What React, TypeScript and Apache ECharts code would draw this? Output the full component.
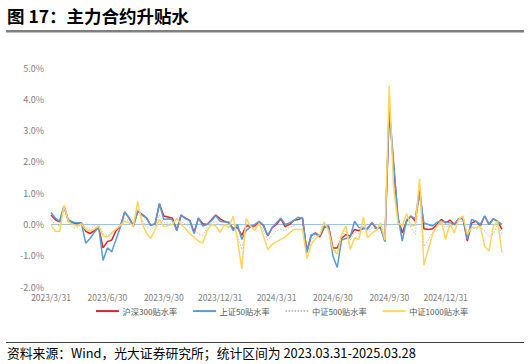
import React, { useEffect, useRef } from "react";
import * as echarts from "echarts";

const startDate = "2023-03-31";
const tickLabels = ["2023/3/31", "2023/6/30", "2023/9/30", "2023/12/31", "2024/3/31", "2024/6/30", "2024/9/30", "2024/12/31"];
const seriesNames = ["沪深300贴水率", "上证50贴水率", "中证500贴水率", "中证1000贴水率"];

const hs300 = [
  0.30, 0.15, 0.08, 0.58, 0.12, 0.05, 0.03, 0.05, -0.22, -0.29,
  -0.20, -0.10, -0.75, -0.55, -0.50, -0.20, -0.05, 0.40, 0.20, -0.05,
  0.42, 0.32, 0.21, -0.03, 0.02, 0.66, 0.27, 0.24, 0.20, -0.18,
  0.30, 0.20, 0.13, -0.25, 0.20, 0.02, 0.00, 0.15, 0.30, 0.18,
  0.10, 0.05, -0.13, -0.10, -0.35, -0.05, -0.05, -0.05, 0.08, -0.03,
  -0.37, -0.10, 0.00, 0.18, -0.07, 0.00, 0.13, 0.16, 0.21, -0.85,
  -0.37, -0.27, -0.40, -0.10, -0.05, -0.75, -0.75, -0.45, -0.32, -0.37,
  -0.16, -0.20, -0.13, -0.13, 0.05, -0.13, -0.09, -0.53, 3.60, 1.90,
  0.20, -0.27, 0.10, 0.27, 0.10, 1.15, -0.14, -0.16, -0.14, 0.00,
  0.16, 0.05, 0.14, 0.00, 0.18, 0.20, -0.53, 0.05, 0.10, -0.05,
  0.27, 0.00, 0.18, 0.10, -0.16,
];

const sz50 = [
  0.38, 0.20, 0.10, 0.60, 0.15, 0.08, 0.05, 0.05, -0.60, -0.45,
  -0.25, -0.08, -1.15, -0.75, -0.87, -0.48, -0.08, 0.40, 0.22, -0.05,
  0.42, 0.30, 0.21, -0.03, 0.02, 0.66, 0.16, 0.18, 0.15, -0.20,
  0.30, 0.18, 0.12, -0.30, 0.21, -0.05, 0.00, 0.12, 0.28, 0.10,
  0.08, 0.08, -0.20, 0.00, -0.48, -0.20, -0.08, 0.00, 0.10, -0.05,
  -0.35, -0.10, 0.05, 0.20, 0.00, 0.05, 0.13, 0.23, 0.18, -0.90,
  -0.33, -0.30, -0.35, -0.05, -0.08, -1.00, -1.38, -0.50, -0.45, -0.40,
  0.10, -0.10, -0.12, -0.15, 0.05, -0.10, -0.12, -0.55, 3.75, 2.00,
  0.27, -0.53, 0.15, 0.25, 0.20, 0.96, 0.05, 0.00, -0.05, 0.07,
  0.10, 0.08, 0.05, 0.00, 0.18, 0.20, -0.48, 0.16, 0.10, 0.00,
  0.27, 0.00, 0.18, 0.10, 0.00,
];

const zz500 = [
  0.15, 0.00, -0.05, 0.55, 0.05, -0.10, -0.12, 0.00, -0.10, -0.15,
  -0.05, 0.00, -0.30, -0.35, -0.30, -0.15, -0.05, 0.20, 0.10, -0.05,
  0.50, 0.15, -0.10, -0.15, -0.05, 0.30, 0.05, 0.05, 0.00, -0.05,
  0.10, 0.00, -0.10, -0.20, -0.30, -0.35, -0.10, 0.05, 0.10, -0.05,
  0.00, 0.00, -0.10, -0.35, -0.80, -0.05, -0.10, -0.10, 0.00, -0.20,
  -0.50, -0.35, -0.20, -0.15, -0.20, -0.10, -0.05, 0.00, -0.03, -0.90,
  -0.50, -0.35, -0.35, -0.05, -0.15, -0.80, -0.85, -0.40, -0.20, -0.50,
  -0.25, -0.30, -0.05, -0.20, -0.10, -0.15, -0.10, -0.50, 4.10, 1.60,
  0.10, -0.20, 0.00, -0.10, -0.32, 1.00, -0.70, -0.50, -0.25, -0.05,
  0.05, -0.10, 0.00, -0.05, 0.10, 0.10, -0.40, -0.10, -0.15, -0.10,
  -0.20, -0.40, -0.30, 0.00, -0.30,
];

const zz1000 = [
  -0.03, -0.22, -0.22, 0.62, 0.10, 0.00, -0.05, 0.02, -0.16, -0.20,
  -0.15, -0.05, -0.37, -0.40, -0.27, -0.15, -0.03, 0.10, 0.05, -0.05,
  0.74, 0.02, -0.27, -0.45, -0.16, 0.16, -0.08, -0.03, 0.00, 0.19,
  0.00, -0.13, -0.30, -0.40, -0.53, -0.60, -0.20, 0.00, -0.05, -0.25,
  0.00, -0.10, 0.27, -0.50, -1.42, 0.19, -0.05, -0.20, 0.05, -0.37,
  -0.80, -0.64, -0.55, -0.48, -0.40, -0.27, -0.16, -0.16, -0.16, -1.10,
  -0.64, -0.45, -0.32, 0.08, -0.20, -0.80, -0.95, -0.32, -0.05, -0.80,
  -0.43, -0.48, 0.23, -0.43, -0.27, -0.20, 0.05, -0.50, 4.42, 1.20,
  0.05, -0.05, 0.35, -0.05, -0.03, 1.46, -1.30, -0.80, -0.32, -0.05,
  0.10, -0.48, 0.03, -0.27, 0.16, 0.27, -0.32, -0.10, -0.10, -0.05,
  -0.70, -0.85, -0.05, 0.10, -0.90,
];

const categories: string[] = (() => {
  const out: string[] = [];
  const d0 = new Date(startDate + "T00:00:00Z");
  for (let i = 0; i < hs300.length; i++) {
    const d = new Date(d0.getTime() + i * 7 * 86400000);
    out.push(`${d.getUTCFullYear()}/${d.getUTCMonth() + 1}/${d.getUTCDate()}`);
  }
  return out;
})();

const FONT = '"Noto Sans CJK SC", "Noto Sans", sans-serif';

export default function App() {
  const ref = useRef<HTMLDivElement>(null);
  useEffect(() => {
    if (!ref.current) return;
    const chart = echarts.init(ref.current, null, { renderer: "svg" });
    const colors = ["#D42A2A", "#5B9BD5", "#BFBFBF", "#FFD560"];
    const datasets = [hs300, sz50, zz500, zz1000];
    chart.setOption({
      animation: false,
      backgroundColor: "#ffffff",
      textStyle: { fontFamily: FONT },
      grid: { left: 51, right: 28, top: 68, bottom: 77, containLabel: false },
      legend: {
        left: 90,
        top: 302,
        itemWidth: 23,
        itemHeight: 10,
        itemGap: 15,
        itemStyle: { opacity: 0 },
        textStyle: { color: "#595959", fontSize: 8.2, fontFamily: FONT, padding: [0, 0, 0, -1.5] },
        data: seriesNames,
      },
      xAxis: {
        type: "category",
        data: categories,
        boundaryGap: false,
        axisLine: { show: false },
        axisTick: { show: false },
        splitLine: { show: false },
        axisLabel: {
          interval: 12,
          margin: 6,
          color: "#808080",
          fontSize: 8.5,
          fontFamily: FONT,
          formatter: (_v: string, idx: number) => (idx % 13 === 0 && tickLabels[idx / 13]) || "",
        },
      },
      yAxis: {
        type: "value",
        min: -2,
        max: 5,
        interval: 1,
        axisLine: { show: false },
        axisTick: { show: false },
        splitLine: { show: false },
        axisLabel: {
          color: "#808080",
          fontSize: 9,
          fontFamily: FONT,
          margin: 7,
          formatter: (v: number) => v.toFixed(1) + "%",
        },
      },
      series: datasets.map((d, k) => ({
        name: seriesNames[k],
        type: "line",
        data: d,
        symbol: "none",
        showSymbol: false,
        z: k === 2 ? 1 : 2 + k,
        lineStyle: {
          color: colors[k],
          width: k === 2 ? 1 : 1.5,
          type: k === 2 ? [1.5, 1.5] : "solid",
        },
        itemStyle: { color: colors[k] },
        markLine:
          k === 0
            ? {
                silent: true,
                symbol: "none",
                label: { show: false },
                lineStyle: { color: "#9DC3E6", width: 1.2, type: "solid" },
                data: [{ yAxis: 0 }],
                z: 0,
              }
            : undefined,
      })),
      graphic: [
        {
          type: "text",
          x: 7,
          y: 15,
          style: {
            text: "图 17：主力合约升贴水",
            font: `bold 17.5px ${FONT}`,
            fill: "#000000",
            verticalAlign: "middle",
          },
        },
        { type: "rect", shape: { x: 6, y: 30, width: 518, height: 2.5 }, style: { fill: "#7F7F7F" } },
        { type: "rect", shape: { x: 6, y: 342, width: 518, height: 1 }, style: { fill: "#404040" } },
        {
          type: "text",
          x: 7,
          y: 352,
          style: {
            text: "资料来源：Wind，光大证券研究所；统计区间为 2023.03.31-2025.03.28",
            font: `12.8px ${FONT}`,
            fill: "#000000",
            verticalAlign: "middle",
          },
        },
      ],
    });
    return () => chart.dispose();
  }, []);
  return <div ref={ref} style={{ position: "fixed", left: 0, top: 0, width: 530, height: 364 }} />;
}
